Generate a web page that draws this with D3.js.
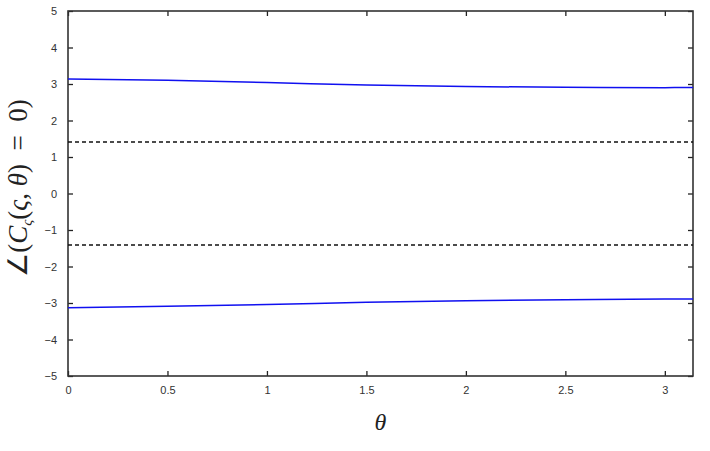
<!DOCTYPE html>
<html lang="en">
<head>
<meta charset="UTF-8">
<title>Phase</title>
<script src="https://d3js.org/d3.v7.min.js"></script>
<style>
  body { margin: 0; background: #fff; }
  .tick text { font-family: "Liberation Sans", Arial, sans-serif; font-size: 11px; fill: #333; }
  .math { font-family: "Liberation Serif", "Times New Roman", serif; fill: #222; }
</style>
</head>
<body>
<div id="chart"></div>
<script>
// values
var theta = [0, 0.5, 1, 1.5, 2, 2.5, 3, Math.PI]
var upper = [3.14, 3.10, 3.04, 2.97, 2.93, 2.91, 2.90, 2.905]
var lower = [-3.13, -3.09, -3.04, -2.98, -2.94, -2.91, -2.89, -2.89]
var bounds = [1.41, -1.41]
var xTicks = [0, 0.5, 1, 1.5, 2, 2.5, 3]
var yTicks = [-5, -4, -3, -2, -1, 0, 1, 2, 3, 4, 5]

var w = 710, h = 451
var m = {left: 68, right: 17, top: 11, bottom: 75}

var svg = d3.select("#chart").append("svg").attr("width", w).attr("height", h)

var x = d3.scaleLinear().domain([0, Math.PI]).range([m.left, w - m.right])
var y = d3.scaleLinear().domain([-5, 5]).range([h - m.bottom, m.top])

var fmt = function(d) { return String(d).replace("-", "\u2212") }

// axes, ticks pointing inward
svg.append("g").attr("transform", "translate(0," + (h - m.bottom) + ")")
  .call(d3.axisBottom(x).tickValues(xTicks).tickSize(-5).tickPadding(10).tickFormat(fmt))
svg.append("g").attr("transform", "translate(0," + m.top + ")")
  .call(d3.axisTop(x).tickValues(xTicks).tickSize(-5).tickFormat(""))
svg.append("g").attr("transform", "translate(" + m.left + ",0)")
  .call(d3.axisLeft(y).tickValues(yTicks).tickSize(-5).tickPadding(11).tickFormat(fmt))
svg.append("g").attr("transform", "translate(" + (w - m.right) + ",0)")
  .call(d3.axisRight(y).tickValues(yTicks).tickSize(-5).tickFormat(""))

svg.selectAll(".domain").remove()
svg.selectAll(".tick line").attr("stroke", "#222").attr("stroke-width", 1.3)

svg.append("rect")
  .attr("x", m.left).attr("y", m.top)
  .attr("width", w - m.left - m.right).attr("height", h - m.top - m.bottom)
  .attr("fill", "none").attr("stroke", "#333").attr("stroke-width", 1.6)

// dashed bounds
svg.selectAll(".bound").data(bounds).enter().append("line")
  .attr("class", "bound")
  .attr("x1", x(0)).attr("x2", x(Math.PI))
  .attr("y1", function(d) { return y(d) }).attr("y2", function(d) { return y(d) })
  .attr("stroke", "#111").attr("stroke-width", 1.4).attr("stroke-dasharray", "4,3")

var line = d3.line()
  .x(function(d, i) { return x(theta[i]) })
  .y(function(d) { return y(d) })
  .curve(d3.curveMonotoneX)

;[upper, lower].forEach(function(s) {
  svg.append("path").datum(s)
    .attr("d", line)
    .attr("fill", "none").attr("stroke", "#1010f0").attr("stroke-width", 1.5)
})

// axis labels
svg.append("text").attr("class", "math")
  .attr("x", x(Math.PI / 2)).attr("y", 430)
  .attr("text-anchor", "middle").attr("font-size", 24).attr("font-style", "italic")
  .text("\u03b8")

var yl = svg.append("text").attr("class", "math")
  .attr("transform", "translate(27,188) rotate(-90)")
  .attr("text-anchor", "middle").attr("font-size", 27)
yl.append("tspan").text("\u2220(")
yl.append("tspan").attr("font-style", "italic").text("C")
yl.append("tspan").attr("font-style", "italic").attr("font-size", 15).attr("dy", 5).text("\u03c2")
yl.append("tspan").attr("dy", -5).text("(")
yl.append("tspan").attr("font-style", "italic").text("\u03c2")
yl.append("tspan").text(", ")
yl.append("tspan").attr("font-style", "italic").text("\u03b8")
yl.append("tspan").text(")\u2002=\u20020)")
</script>
</body>
</html>
